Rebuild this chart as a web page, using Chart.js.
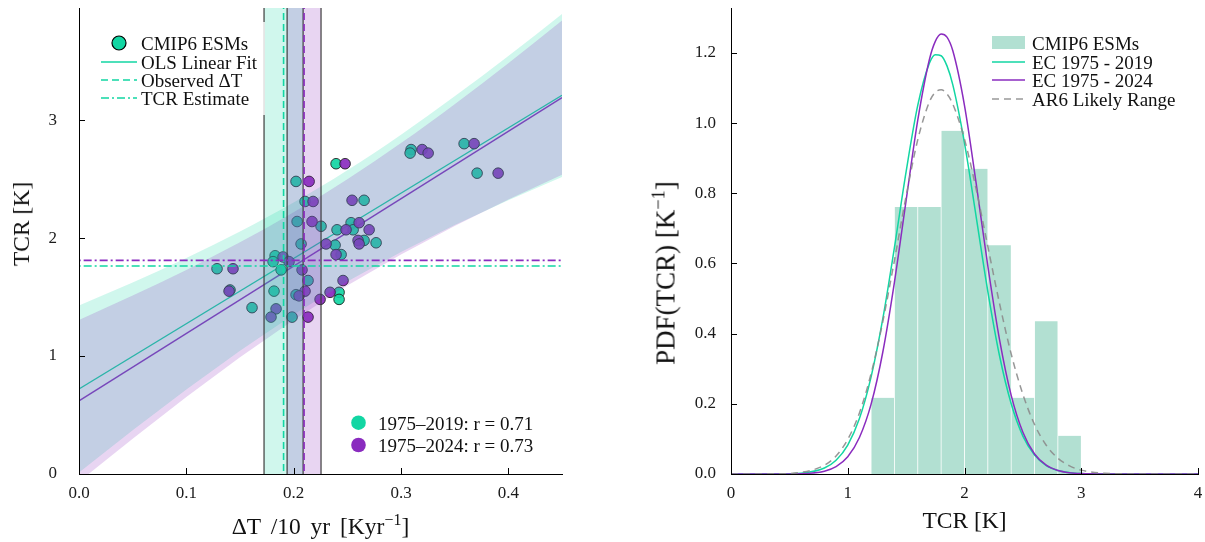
<!DOCTYPE html>
<html><head><meta charset="utf-8">
<script src="https://cdn.jsdelivr.net/npm/chart.js@4.4.1/dist/chart.umd.min.js"></script>
<style>
html,body{margin:0;padding:0;background:#fff;}
body{width:1205px;height:542px;position:relative;overflow:hidden;font-family:'Liberation Serif',serif;color:#111;}
#c1{position:absolute;left:0;top:0;}
#c2{position:absolute;left:600px;top:0;}
.row{position:absolute;height:19px;line-height:19px;font-size:19px;white-space:nowrap;}
.h{position:absolute;}
.t{position:absolute;white-space:nowrap;font-size:23.5px;line-height:26px;transform:translate(-50%,-50%);}
.ty{transform:translate(-50%,-50%) rotate(-90deg);}
.sup{position:relative;top:-0.55em;font-size:0.68em;}
.box{position:absolute;background:rgba(255,255,255,0.8);}
</style></head>
<body>
<canvas id="c1" width="600" height="542"></canvas>
<canvas id="c2" width="605" height="542"></canvas>

<!-- left legend (top-left) -->
<div class="box" style="left:90px;top:22px;width:175px;height:93px;"></div>
<svg class="h" style="left:100px;top:33px" width="38" height="80">
  <circle cx="19" cy="10" r="7" fill="#12d6a3" stroke="#000" stroke-width="1.2"/>
  <line x1="1" y1="29" x2="37" y2="29" stroke="#12d6a3" stroke-width="1.5"/>
  <line x1="1" y1="47" x2="37" y2="47" stroke="#12d6a3" stroke-width="1.5" stroke-dasharray="7,4"/>
  <line x1="1" y1="65" x2="37" y2="65" stroke="#12d6a3" stroke-width="1.5" stroke-dasharray="8,3,2,3"/>
</svg>
<div class="row" style="left:141px;top:33.5px">CMIP6 ESMs</div>
<div class="row" style="left:141px;top:52.5px">OLS Linear Fit</div>
<div class="row" style="left:141px;top:70.5px">Observed ΔT</div>
<div class="row" style="left:141px;top:88.5px">TCR Estimate</div>

<!-- left legend (bottom-right) -->
<svg class="h" style="left:348px;top:412px" width="22" height="44">
  <circle cx="10.5" cy="10.7" r="7.3" fill="#12d6a3"/>
  <circle cx="10.5" cy="33" r="7.3" fill="#8a2cbf"/>
</svg>
<div class="row" style="left:378px;top:413.5px">1975–2019: r = 0.71</div>
<div class="row" style="left:378px;top:435.5px">1975–2024: r = 0.73</div>

<!-- right legend -->
<svg class="h" style="left:991px;top:33px" width="36" height="80">
  <rect x="1" y="3" width="33" height="13" fill="#b2e0d2"/>
  <line x1="1" y1="29" x2="34" y2="29" stroke="#12d6a3" stroke-width="1.5"/>
  <line x1="1" y1="47" x2="34" y2="47" stroke="#8a2cbf" stroke-width="1.5"/>
  <line x1="1" y1="66" x2="34" y2="66" stroke="#999" stroke-width="1.5" stroke-dasharray="7,5"/>
</svg>
<div class="row" style="left:1032px;top:33.5px">CMIP6 ESMs</div>
<div class="row" style="left:1032px;top:52.5px">EC 1975 - 2019</div>
<div class="row" style="left:1032px;top:70.5px">EC 1975 - 2024</div>
<div class="row" style="left:1032px;top:89.5px">AR6 Likely Range</div>

<!-- axis titles -->
<div class="t" style="left:320.5px;top:527px;word-spacing:4px">ΔT /10 yr [Kyr<span class="sup">−1</span>]</div>
<div class="t ty" style="left:21px;top:224px">TCR [K]</div>
<div class="t" style="left:964.5px;top:520px">TCR [K]</div>
<div class="t ty" style="left:667px;top:273px;font-size:27px">PDF(TCR) [K<span class="sup">−1</span>]</div>

<script>
// ---------------- data: left panel ----------------
const TEAL_DT  = [0.2395,0.2022,0.2106,0.2656,0.2032,0.2535,0.2255,0.2404,0.2554,0.2656,0.2768,0.2069,0.2386,0.2442,0.1827,0.1808,0.1883,0.1286,0.2134,0.1407,0.1817,0.2022,0.2423,0.2423,0.1612,0.1985,0.3094,0.3085,0.3588,0.3709];
const TEAL_TCR = [2.63,2.48,2.31,2.32,2.14,2.13,2.10,2.07,2.07,1.98,1.96,1.95,1.94,1.86,1.85,1.80,1.73,1.74,1.64,1.56,1.55,1.52,1.54,1.48,1.41,1.33,2.75,2.72,2.80,2.55];
const PURP_DT  = [0.2479,0.2144,0.2181,0.2544,0.2171,0.2610,0.2488,0.2703,0.2600,0.2610,0.2302,0.2395,0.1901,0.1957,0.1435,0.2078,0.2460,0.1398,0.2106,0.2050,0.2339,0.2246,0.1836,0.1789,0.2134,0.3197,0.3253,0.3681,0.3905];
const PURP_TCR = [2.63,2.48,2.31,2.32,2.14,2.13,2.07,2.07,1.98,1.95,1.95,1.86,1.84,1.80,1.74,1.73,1.64,1.55,1.55,1.51,1.54,1.48,1.40,1.33,1.33,2.75,2.72,2.80,2.55];

const FIT_X      = [0, 0.45];
const FIT_TEAL   = [0.72, 3.21];
const FIT_PURP   = [0.62, 3.19];

const BAND_X        = [0, 0.05, 0.1, 0.15, 0.2, 0.25, 0.3, 0.35, 0.4, 0.45];
const BAND_TEAL_LO  = [0.012, 0.371, 0.716, 1.045, 1.351, 1.631, 1.882, 2.111, 2.321, 2.518];
const BAND_TEAL_HI  = [1.428, 1.623, 1.830, 2.055, 2.301, 2.575, 2.876, 3.201, 3.543, 3.900];
const BAND_PURP_LO  = [-0.065, 0.299, 0.652, 0.990, 1.306, 1.597, 1.861, 2.103, 2.326, 2.537];
const BAND_PURP_HI  = [1.305, 1.513, 1.730, 1.964, 2.219, 2.499, 2.805, 3.135, 3.482, 3.843];

const OBS_TEAL = 0.1906, OBS_TEAL_LO = 0.1724, OBS_TEAL_HI = 0.2088;
const OBS_PURP = 0.2097, OBS_PURP_LO = 0.1939, OBS_PURP_HI = 0.2255;
const TCR_EST_TEAL = 1.763, TCR_EST_PURP = 1.811;

const X1_TICKS = [0, 0.1, 0.2, 0.3, 0.4];
const X1_LABELS = ['0.0','0.1','0.2','0.3','0.4'];
const Y1_TICKS = [0, 1, 2, 3];
const Y1_LABELS = ['0','1','2','3'];

// ---------------- data: right panel ----------------
const HIST_CENTERS = [1.3, 1.5, 1.7, 1.9, 2.1, 2.3, 2.5, 2.7, 2.9];
const HIST_DENS    = [0.217, 0.761, 0.761, 0.978, 0.870, 0.652, 0.217, 0.435, 0.109];

const PDF_X    = [0, 0.4, 0.6, 0.8, 0.9, 1.0, 1.1, 1.2, 1.3, 1.4, 1.5, 1.6, 1.7, 1.75, 1.8, 1.85, 1.9, 2.0, 2.1, 2.2, 2.3, 2.4, 2.5, 2.6, 2.7, 2.8, 2.9, 3.0, 3.2, 3.6, 4.0];
const PDF_2019 = [0, 0.0003, 0.0025, 0.0172, 0.0394, 0.0826, 0.158, 0.277, 0.442, 0.646, 0.862, 1.051, 1.171, 1.195, 1.192, 1.163, 1.109, 0.943, 0.733, 0.520, 0.337, 0.200, 0.108, 0.054, 0.024, 0.010, 0.0038, 0.0013, 0.0001, 0, 0];
const PDF_2024 = [0, 0.0001, 0.0009, 0.0081, 0.0209, 0.0489, 0.104, 0.199, 0.347, 0.547, 0.780, 1.009, 1.182, 1.233, 1.254, 1.245, 1.206, 1.050, 0.828, 0.592, 0.383, 0.224, 0.119, 0.057, 0.025, 0.0099, 0.0035, 0.0011, 0.0001, 0, 0];
const PDF_AR6  = [0, 0.0006, 0.0046, 0.025, 0.0516, 0.0986, 0.174, 0.286, 0.434, 0.609, 0.792, 0.953, 1.061, 1.088, 1.095, 1.083, 1.054, 0.954, 0.811, 0.648, 0.486, 0.342, 0.227, 0.141, 0.082, 0.045, 0.023, 0.011, 0.002, 0, 0];

const X2_TICKS = [0, 1, 2, 3, 4];
const X2_LABELS = ['0','1','2','3','4'];
const Y2_TICKS = [0, 0.2, 0.4, 0.6, 0.8, 1.0, 1.2];
const Y2_LABELS = ['0.0','0.2','0.4','0.6','0.8','1.0','1.2'];

// ---------------- styling ----------------
const F = 'Liberation Serif';
const TEAL = '#12d6a3', PURP = '#8a2cbf';
const zip = (xs, ys) => xs.map((x, i) => ({x, y: ys[i]}));
const vline = (x) => [{x, y: -1}, {x, y: 10}];
const hline = (y) => [{x: -0.1, y}, {x: 0.6, y}];

const inwardTicks = {
  id: 'inwardTicks',
  afterDraw(chart) {
    const {ctx, chartArea, scales: {x, y}} = chart;
    ctx.save();
    ctx.strokeStyle = '#000';
    ctx.lineWidth = 1;
    ctx.beginPath();
    x.ticks.forEach(t => {
      const p = Math.round(x.getPixelForValue(t.value)) + 0.5;
      ctx.moveTo(p, chartArea.bottom); ctx.lineTo(p, chartArea.bottom - 6);
    });
    y.ticks.forEach(t => {
      const p = Math.round(y.getPixelForValue(t.value)) + 0.5;
      ctx.moveTo(chartArea.left, p); ctx.lineTo(chartArea.left + 6, p);
    });
    ctx.stroke();
    ctx.restore();
  }
};

function axes(xmin, xmax, xt, xl, ymin, ymax, yt, yl, ywidth, ypad) {
  return {
    x: {
      type: 'linear', min: xmin, max: xmax, offset: false,
      grid: {display: false, drawTicks: false, offset: false},
      border: {display: true, color: '#000', width: 1, z: 1},
      ticks: {font: {family: F, size: 17}, color: '#1a1a1a', padding: 9, maxRotation: 0,
              callback: (v, i) => xl[i]},
      afterBuildTicks: s => { s.ticks = xt.map(v => ({value: v})); },
      afterFit: s => { s.height = 68; s.paddingLeft = 0; s.paddingRight = 0; }
    },
    y: {
      type: 'linear', min: ymin, max: ymax,
      grid: {display: false, drawTicks: false},
      border: {display: true, color: '#000', width: 1, z: 1},
      ticks: {font: {family: F, size: 17}, color: '#1a1a1a', padding: ypad,
              callback: (v, i) => yl[i]},
      afterBuildTicks: s => { s.ticks = yt.map(v => ({value: v})); },
      afterFit: s => { s.width = ywidth; s.paddingTop = 0; s.paddingBottom = 0; }
    }
  };
}

const lineDs = (data, color, width, dash, order, extra) => Object.assign({
  type: 'line', data, borderColor: color, borderWidth: width, borderDash: dash || [],
  pointRadius: 0, fill: false, tension: 0, order
}, extra || {});

new Chart(document.getElementById('c1'), {
  type: 'line',
  data: {datasets: [
    lineDs(zip(FIT_X, FIT_TEAL), TEAL, 1.3, null, 30),
    lineDs(zip(FIT_X, FIT_PURP), PURP, 1.3, null, 29),
    {type: 'line', data: zip(TEAL_DT, TEAL_TCR), showLine: false, pointRadius: 5.3,
     pointBackgroundColor: 'rgba(18,214,163,0.92)', pointBorderColor: 'rgba(25,25,25,0.85)', pointBorderWidth: 1, order: 28},
    {type: 'line', data: zip(PURP_DT, PURP_TCR), showLine: false, pointRadius: 5.3,
     pointBackgroundColor: 'rgba(138,44,191,0.92)', pointBorderColor: 'rgba(25,25,25,0.85)', pointBorderWidth: 1, order: 27},
    lineDs(zip(BAND_X, BAND_TEAL_LO), 'rgba(0,0,0,0)', 0, null, 26),
    lineDs(zip(BAND_X, BAND_TEAL_HI), 'rgba(0,0,0,0)', 0, null, 25, {fill: '-1', backgroundColor: 'rgba(18,214,163,0.2)', cubicInterpolationMode: 'monotone'}),
    lineDs(zip(BAND_X, BAND_PURP_LO), 'rgba(0,0,0,0)', 0, null, 24),
    lineDs(zip(BAND_X, BAND_PURP_HI), 'rgba(0,0,0,0)', 0, null, 23, {fill: '-1', backgroundColor: 'rgba(138,44,191,0.2)', cubicInterpolationMode: 'monotone'}),
    lineDs([{x: OBS_TEAL_LO, y: 10}, {x: OBS_TEAL_HI, y: 10}], 'rgba(0,0,0,0)', 0, null, 22, {fill: 'start', backgroundColor: 'rgba(18,214,163,0.2)'}),
    lineDs([{x: OBS_PURP_LO, y: 10}, {x: OBS_PURP_HI, y: 10}], 'rgba(0,0,0,0)', 0, null, 21, {fill: 'start', backgroundColor: 'rgba(138,44,191,0.2)'}),
    lineDs(vline(OBS_TEAL_LO), 'rgba(60,60,60,0.85)', 1.4, null, 20),
    lineDs(vline(OBS_TEAL_HI), 'rgba(60,60,60,0.85)', 1.4, null, 20),
    lineDs(vline(OBS_PURP_LO), 'rgba(60,60,60,0.85)', 1.4, null, 20),
    lineDs(vline(OBS_PURP_HI), 'rgba(60,60,60,0.85)', 1.4, null, 20),
    lineDs(vline(OBS_TEAL), TEAL, 1.6, [7, 4], 10),
    lineDs(vline(OBS_PURP), PURP, 1.6, [7, 4], 10),
    lineDs(hline(TCR_EST_TEAL), TEAL, 1.6, [8, 3, 2, 3], 5),
    lineDs(hline(TCR_EST_PURP), PURP, 1.6, [8, 3, 2, 3], 4)
  ]},
  options: {
    responsive: false, animation: false, devicePixelRatio: 1,
    layout: {autoPadding: false, padding: {left: 0, right: 38, top: 8, bottom: 0}},
    plugins: {legend: {display: false}, tooltip: {enabled: false}},
    scales: axes(0, 0.45, X1_TICKS, X1_LABELS, 0, 3.95, Y1_TICKS, Y1_LABELS, 79, 22)
  },
  plugins: [inwardTicks]
});

new Chart(document.getElementById('c2'), {
  type: 'line',
  data: {datasets: [
    {type: 'bar', data: zip(HIST_CENTERS, HIST_DENS), backgroundColor: '#b2e0d2',
     borderColor: '#ffffff', borderWidth: {left: 0.7, right: 0.7, top: 0, bottom: 0},
     barPercentage: 1, categoryPercentage: 1, order: 10},
    lineDs(zip(PDF_X, PDF_2019), TEAL, 1.5, null, 3, {cubicInterpolationMode: 'monotone'}),
    lineDs(zip(PDF_X, PDF_2024), PURP, 1.5, null, 2, {cubicInterpolationMode: 'monotone'}),
    lineDs(zip(PDF_X, PDF_AR6), 'rgba(140,140,140,0.9)', 1.5, [7, 5], 1, {cubicInterpolationMode: 'monotone'})
  ]},
  options: {
    responsive: false, animation: false, devicePixelRatio: 1,
    layout: {autoPadding: false, padding: {left: 0, right: 7, top: 8, bottom: 0}},
    plugins: {legend: {display: false}, tooltip: {enabled: false}},
    scales: axes(0, 4, X2_TICKS, X2_LABELS, 0, 1.328, Y2_TICKS, Y2_LABELS, 131, 15)
  },
  plugins: [inwardTicks]
});
</script>
</body></html>
